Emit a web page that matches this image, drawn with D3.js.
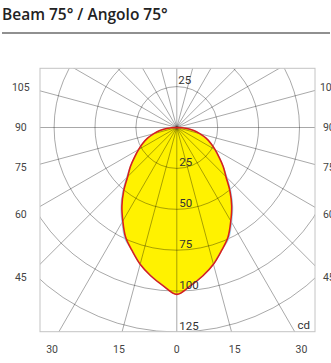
<!DOCTYPE html>
<html>
<head>
<meta charset="utf-8">
<script src="https://cdn.jsdelivr.net/npm/d3@7"></script>
<style>
    body { margin: 0; background: #fff; }
    svg { display: block; }
</style>
</head>
<body>
<div id="chart"></div>
<script>
// angles from nadir (deg) and intensity in cd
const angles=[0, 5, 10, 15, 20, 25, 30, 35, 40, 45, 50, 55, 60, 65, 70, 75, 80, 85, 90];
const intensityC0=[102, 97, 92, 86.5, 80, 74, 66, 58.5, 50.5, 42.5, 37, 31.5, 27, 23, 19, 14.5, 10.5, 5.5, 0];
const intensityC90=[102, 97, 92, 86.5, 80, 75, 67, 59.5, 51.5, 43.5, 37, 31.5, 27, 23, 19, 14.5, 10.5, 5.5, 0];
const ringValues=[25, 50, 75, 100, 125];
const spokeAngles=d3.range(0, 360, 15);
const sideLabels=[45, 60, 75, 90, 105];
const bottomLabels=[-30, -15, 0, 15, 30];
const title="Beam 75° / Angolo 75°";
const unit="cd";

const width=331, height=363;
const cx=176.8, cy=127.5;
const box={x0: 40, x1: 315, y0: 68.3, y1: 331.7};

const r=d3.scaleLinear().domain([0, 125]).range([0, 204.5]);
const rad=d3.scaleLinear().domain([0, 180]).range([0, Math.PI]);

const svg=d3.select("#chart").append("svg")
    .attr("width", width)
    .attr("height", height);

svg.append("text")
    .attr("x", 2)
    .attr("y", 20)
    .attr("font-family", "Open Sans")
    .attr("font-weight", 600)
    .attr("font-size", 15.5)
    .attr("fill", "#222")
    .text(title);

svg.append("line")
    .attr("x1", 2).attr("x2", 330)
    .attr("y1", 33).attr("y2", 33)
    .attr("stroke", "#222")
    .attr("stroke-width", 1.2);

svg.append("clipPath").attr("id", "plotClip")
    .append("rect")
    .attr("x", box.x0).attr("y", box.y0)
    .attr("width", box.x1-box.x0).attr("height", box.y1-box.y0);

const plot=svg.append("g").attr("clip-path", "url(#plotClip)");
const g=plot.append("g").attr("transform", `translate(${cx},${cy})`);

// full curve: left half mirrored from right
function curvePoints (vals) {
    const pts=[];
    for (let i=angles.length-1; i>=0; i--) pts.push({a: -angles[i], v: vals[i]});
    for (let i=1; i<angles.length; i++) pts.push({a: angles[i], v: vals[i]});
    return pts;
}

const radial=d3.lineRadial()
    .angle(d => Math.PI-rad(d.a))
    .radius(d => r(d.v))
    .curve(d3.curveCatmullRom);

g.append("path")
    .attr("d", radial(curvePoints(intensityC0)))
    .attr("fill", "#fff200")
    .attr("stroke", "none");

// grid
g.selectAll(".ring")
    .data(ringValues)
    .enter().append("circle")
    .attr("r", d => r(d))
    .attr("fill", "none")
    .attr("stroke", "#000")
    .attr("stroke-opacity", 0.34)
    .attr("stroke-width", 1);

g.selectAll(".spoke")
    .data(spokeAngles)
    .enter().append("line")
    .attr("x1", 0).attr("y1", 0)
    .attr("x2", d => 400*Math.sin(rad(d)))
    .attr("y2", d => 400*Math.cos(rad(d)))
    .attr("stroke", "#000")
    .attr("stroke-opacity", 0.34)
    .attr("stroke-width", 1);

g.append("path")
    .attr("d", radial(curvePoints(intensityC90)))
    .attr("fill", "none")
    .attr("stroke", "#9fd6f2")
    .attr("stroke-width", 1.2);

g.append("path")
    .attr("d", radial(curvePoints(intensityC0)))
    .attr("fill", "none")
    .attr("stroke", "#d8201c")
    .attr("stroke-width", 1.6);

svg.append("rect")
    .attr("x", box.x0).attr("y", box.y0)
    .attr("width", box.x1-box.x0).attr("height", box.y1-box.y0)
    .attr("fill", "none")
    .attr("stroke", "#c4c4c4")
    .attr("stroke-width", 1);

const labelFont="Roboto";

// ring labels, below and above the centre
const ringLabels=svg.append("g")
    .attr("font-family", labelFont)
    .attr("font-size", 11.5)
    .attr("fill", "#333");

ringLabels.selectAll(".rl")
    .data(ringValues)
    .enter().append("text")
    .attr("x", cx+2.5)
    .attr("y", d => cy+r(d)-2)
    .text(d => d);

ringLabels.append("text")
    .attr("x", cx+1.5)
    .attr("y", cy-r(ringValues[0])-2.5)
    .text(ringValues[0]);

ringLabels.append("text")
    .attr("x", box.x1-5)
    .attr("y", box.y1-3)
    .attr("text-anchor", "end")
    .text(unit);

// angle labels on both sides (the right ones run off the page, as in the source)
const axisLabels=svg.append("g")
    .attr("font-family", labelFont)
    .attr("font-size", 10.5)
    .attr("fill", "#444")
    .attr("text-anchor", "middle");

axisLabels.selectAll(".sl")
    .data(sideLabels)
    .enter().append("text")
    .attr("x", cx-156)
    .attr("y", d => cy+150/Math.tan(rad(d))+3.8)
    .text(d => d);

axisLabels.selectAll(".sr")
    .data(sideLabels)
    .enter().append("text")
    .attr("x", cx+152)
    .attr("y", d => cy+150/Math.tan(rad(d))+3.8)
    .text(d => d);

axisLabels.selectAll(".bl")
    .data(bottomLabels)
    .enter().append("text")
    .attr("x", d => cx+216*Math.tan(rad(d)))
    .attr("y", 352.8)
    .text(d => Math.abs(d));
</script>
</body>
</html>
